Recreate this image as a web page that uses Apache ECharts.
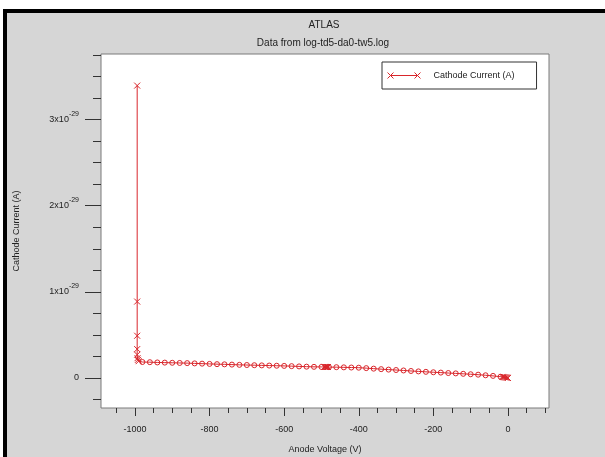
<!DOCTYPE html>
<html>
<head>
<meta charset="utf-8">
<script src="https://cdn.jsdelivr.net/npm/echarts@6/dist/echarts.min.js"></script>
<style>
  html, body { margin: 0; padding: 0; background: #d6d6d6; }
  #chart { position: absolute; left: 0; top: 0; width: 605px; height: 457px; }
  .frame { position: absolute; }
</style>
</head>
<body>
<div id="chart"></div>
<div class="frame" style="left:0;top:0;width:605px;height:9px;background:#fff"></div>
<div class="frame" style="left:0;top:0;width:3px;height:457px;background:#fff"></div>
<div class="frame" style="left:3px;top:9px;width:602px;height:4px;background:#000"></div>
<div class="frame" style="left:3px;top:9px;width:4px;height:448px;background:#000"></div>
<script>
// anode voltage (V), sweep order 0 -> -1000
const voltage = [
  0, -2.5, -5, -7.5, -10, -12.5, -15,
  -20, -40, -60, -80, -100, -120, -140, -160, -180, -200,
  -220, -240, -260, -280, -300, -320, -340, -360, -380, -400,
  -420, -440, -460, -480, -482.5, -485, -487.5, -490, -492.5, -500,
  -520, -540, -560, -580, -600, -620, -640, -660, -680, -700,
  -720, -740, -760, -780, -800, -820, -840, -860, -880, -900,
  -920, -940, -960, -980,
  -990, -992, -993, -994, -994, -994, -994, -994
]
// cathode current in units of 1e-29 A
const current = [
  0.000, 0.003, 0.005, 0.007, 0.009, 0.011, 0.012,
  0.014, 0.024, 0.031, 0.038, 0.043, 0.048, 0.053, 0.057, 0.062, 0.066,
  0.071, 0.076, 0.081, 0.087, 0.092, 0.097, 0.102, 0.108, 0.114, 0.119,
  0.121, 0.123, 0.125, 0.126, 0.127, 0.127, 0.127, 0.128, 0.128, 0.128,
  0.129, 0.131, 0.134, 0.137, 0.140, 0.142, 0.144, 0.146, 0.148, 0.150,
  0.152, 0.155, 0.158, 0.160, 0.163, 0.166, 0.169, 0.172, 0.174, 0.176,
  0.178, 0.180, 0.183, 0.185,
  0.195, 0.21, 0.23, 0.27, 0.335, 0.49, 0.887, 3.395
]

const xMajorTicks = [-1000, -800, -600, -400, -200, 0]
const xMinorTicks = [-1050, -950, -900, -850, -750, -700, -650, -550, -500, -450,
  -350, -300, -250, -150, -100, -50, 50, 100]
const yMajorTicks = [0, 1, 2, 3]
const yMinorTicks = [-0.25, 0.25, 0.5, 0.75, 1.25, 1.5, 1.75, 2.25, 2.5, 2.75, 3.25, 3.5, 3.75]

const RED = '#d9262b'
const TXT = '#222'
const FONT = 'Liberation Sans, Arial, sans-serif'
const CROSS = 'path://M0,0L10,10M0,10L10,0'
const LEGEND_ICON = 'path://M0,0L6,6M0,6L6,0M3,3L30,3M27,0L33,6M27,6L33,0'

const chart = echarts.init(document.getElementById('chart'), null, { renderer: 'canvas' })

// sweep points on the 20 V grid get circles, the refined / breakdown points crosses
const seriesData = voltage.map((v, i) => {
  const onGrid = v % 20 === 0 && v !== 0
  return {
    value: [v, current[i]],
    symbol: onGrid ? 'circle' : CROSS,
    symbolSize: onGrid ? 5 : 6
  }
})

const option = {
  animation: false,
  textStyle: { fontFamily: FONT },
  graphic: [
    { type: 'text', x: 324, y: 25, style: { text: 'ATLAS', font: '10px ' + FONT, fill: TXT, textAlign: 'center', textVerticalAlign: 'middle' } },
    { type: 'text', x: 323, y: 43, style: { text: 'Data from log-td5-da0-tw5.log', font: '10px ' + FONT, fill: TXT, textAlign: 'center', textVerticalAlign: 'middle' } }
  ],
  grid: {
    left: 101, top: 54, width: 448, height: 354,
    outerBoundsMode: 'none', containLabel: false,
    show: true, backgroundColor: '#fff', borderColor: '#7a7a7a', borderWidth: 1
  },
  legend: {
    left: 382, top: 62,
    padding: [9, 22, 9, 5],
    backgroundColor: '#fff', borderColor: '#333', borderWidth: 1, borderRadius: 0,
    itemWidth: 33, itemHeight: 7, itemGap: 0,
    textStyle: { fontSize: 9, color: TXT, fontFamily: FONT, padding: [0, 0, 0, 8] },
    data: [{
      name: 'Cathode Current (A)',
      icon: LEGEND_ICON,
      itemStyle: { color: RED, borderColor: RED, borderWidth: 1, opacity: 1 }
    }]
  },
  xAxis: [{
    type: 'value', min: -1091, max: 110,
    name: 'Anode Voltage (V)', nameLocation: 'middle', nameGap: 37,
    nameTextStyle: { fontSize: 9, color: TXT, fontFamily: FONT },
    axisLine: { show: false, onZero: false },
    axisTick: { show: true, inside: false, length: 8, customValues: xMajorTicks, lineStyle: { color: '#333' } },
    axisLabel: { customValues: xMajorTicks, fontSize: 9, color: TXT, margin: 17, fontFamily: FONT, formatter: v => String(v) },
    splitLine: { show: false }
  }, {
    type: 'value', min: -1091, max: 110, position: 'bottom',
    axisLine: { show: false, onZero: false },
    axisTick: { show: true, inside: false, length: 5, customValues: xMinorTicks, lineStyle: { color: '#333' } },
    axisLabel: { show: false },
    splitLine: { show: false }
  }],
  yAxis: [{
    type: 'value', min: -0.349, max: 3.762,
    name: 'Cathode Current (A)', nameLocation: 'middle', nameGap: 80, nameRotate: 90,
    nameTextStyle: { fontSize: 9, color: TXT, fontFamily: FONT },
    axisLine: { show: false, onZero: false },
    axisTick: { show: true, inside: false, length: 16, customValues: yMajorTicks, lineStyle: { color: '#333' } },
    axisLabel: {
      customValues: yMajorTicks, margin: 22, color: TXT, fontFamily: FONT,
      formatter: v => v === 0 ? '{m|0}' : '{m|' + v + 'x10}{e|-29}',
      rich: {
        m: { fontSize: 9, color: TXT, fontFamily: FONT, lineHeight: 18, verticalAlign: 'middle' },
        e: { fontSize: 7, color: TXT, fontFamily: FONT, verticalAlign: 'top' }
      }
    },
    splitLine: { show: false }
  }, {
    type: 'value', min: -0.349, max: 3.762, position: 'left',
    axisLine: { show: false, onZero: false },
    axisTick: { show: true, inside: false, length: 8, customValues: yMinorTicks, lineStyle: { color: '#333' } },
    axisLabel: { show: false },
    splitLine: { show: false }
  }],
  series: [{
    name: 'Cathode Current (A)',
    type: 'line',
    xAxisIndex: 0, yAxisIndex: 0,
    data: seriesData,
    symbol: CROSS,
    showAllSymbol: true,
    lineStyle: { color: RED, width: 1 },
    itemStyle: { color: 'rgba(0,0,0,0)', borderColor: RED, borderWidth: 1 },
    emphasis: { disabled: true }
  }]
}

chart.setOption(option)
</script>
</body>
</html>
